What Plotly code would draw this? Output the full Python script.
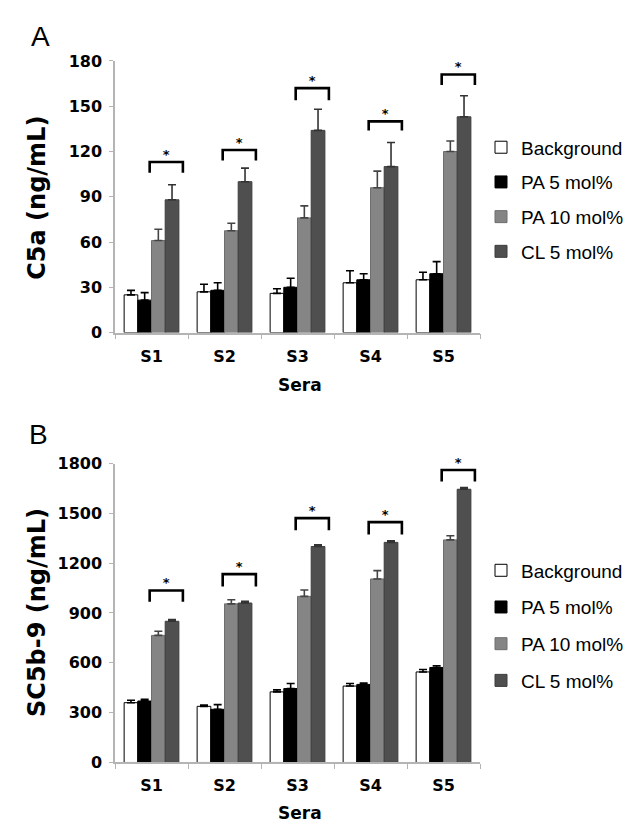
import plotly.graph_objects as go

# ---------------- data ----------------
sera = ["S1", "S2", "S3", "S4", "S5"]
series_names = ["Background", "PA 5 mol%", "PA 10 mol%", "CL 5 mol%"]

# Panel A: C5a (ng/mL)
c5a_background = [25, 27, 26, 33, 35]
c5a_background_err = [3, 5, 3, 8, 5]
c5a_pa5 = [21.5, 28, 30, 35, 39]
c5a_pa5_err = [5, 5, 6, 4, 8]
c5a_pa10 = [61, 67.5, 76, 96, 120]
c5a_pa10_err = [7.5, 5, 8, 11, 7]
c5a_cl5 = [88, 100, 134, 110, 143]
c5a_cl5_err = [10, 9, 14, 16, 14]
c5a_bracket_top = [113, 121, 162, 140, 171]
c5a_bracket_foot = [106, 114, 154, 134, 164]

# Panel B: SC5b-9 (ng/mL)
sc5b9_background = [360, 338, 425, 460, 545]
sc5b9_background_err = [15, 8, 12, 15, 15]
sc5b9_pa5 = [370, 320, 445, 470, 572]
sc5b9_pa5_err = [10, 28, 30, 8, 10]
sc5b9_pa10 = [765, 955, 1000, 1105, 1340]
sc5b9_pa10_err = [25, 25, 38, 50, 25]
sc5b9_cl5 = [850, 960, 1300, 1325, 1645]
sc5b9_cl5_err = [10, 10, 10, 10, 10]
sc5b9_bracket_top = [1035, 1134, 1471, 1447, 1761]
sc5b9_bracket_foot = [967, 1059, 1398, 1373, 1692]

c5a_ticks = [0, 30, 60, 90, 120, 150, 180]
sc5b9_ticks = [0, 300, 600, 900, 1200, 1500, 1800]

# ---------------- style ----------------
W, H = 642, 827
fill_colors = ["#ffffff", "#000000", "#858585", "#4f4f4f"]
line_colors = ["#000000", "#000000", "#6e6e6e", "#3c3c3c"]
err_colors = ["#000000", "#000000", "#444444", "#333333"]
AXIS_GREY = "#b4b4b4"
BOLD = "DejaVu Sans"
xs = list(range(len(sera)))

fig = go.Figure()


def add_panel(values, errs, bt, bf, xa, ya, legend_name, show_legend):
    for k in range(4):
        fig.add_trace(go.Bar(
            x=xs, y=values[k], name=series_names[k],
            marker=dict(color=fill_colors[k], line=dict(color=line_colors[k], width=1)),
            error_y=dict(type="data", array=errs[k], arrayminus=[0] * len(xs),
                         symmetric=False, color=err_colors[k], thickness=1.6, width=4),
            xaxis=xa, yaxis=ya, legend=legend_name, legendgroup=legend_name + str(k),
            showlegend=show_legend, offsetgroup=str(k),
        ))
    # significance brackets between PA 10 mol% and CL 5 mol%
    bx, by = [], []
    for i in xs:
        x0, x1 = i - 0.025, i + 0.43
        bx += [x0, x0, x1, x1, None]
        by += [bf[i], bt[i], bt[i], bf[i], None]
    fig.add_trace(go.Scatter(x=bx, y=by, mode="lines", line=dict(color="#000000", width=2.6),
                             xaxis=xa, yaxis=ya, showlegend=False, hoverinfo="skip",
                             cliponaxis=False))
    fig.add_trace(go.Scatter(x=[i + 0.2 for i in xs], y=bt, mode="text", text=["*"] * len(xs),
                             textposition="top center",
                             textfont=dict(family=BOLD, size=13, color="#000000", weight="bold"),
                             xaxis=xa, yaxis=ya, showlegend=False, hoverinfo="skip",
                             cliponaxis=False))


add_panel([c5a_background, c5a_pa5, c5a_pa10, c5a_cl5],
          [c5a_background_err, c5a_pa5_err, c5a_pa10_err, c5a_cl5_err],
          c5a_bracket_top, c5a_bracket_foot, "x", "y", "legend", True)
add_panel([sc5b9_background, sc5b9_pa5, sc5b9_pa10, sc5b9_cl5],
          [sc5b9_background_err, sc5b9_pa5_err, sc5b9_pa10_err, sc5b9_cl5_err],
          sc5b9_bracket_top, sc5b9_bracket_foot, "x2", "y2", "legend2", True)

xdom = [107 / W, 472 / W]
ydomA = [1 - 323 / H, 1 - 45 / H]
ydomB = [1 - 763 / H, 1 - 457 / H]

xaxis_common = dict(
    domain=xdom, range=[-0.5, 4.5], tickvals=xs, ticktext=sera, ticks="",
    showline=True, linecolor=AXIS_GREY, linewidth=1.5, showgrid=False, zeroline=False,
    tickfont=dict(family=BOLD, size=16, color="#000000", weight="bold"),
    ticklabelstandoff=8,
    minor=dict(tickvals=[-0.5, 0.5, 1.5, 2.5, 3.5, 4.5], ticks="outside", ticklen=5,
               tickcolor=AXIS_GREY, tickwidth=1.2, showgrid=False),
    fixedrange=True,
)
yaxis_common = dict(
    showline=True, linecolor=AXIS_GREY, linewidth=1.5, showgrid=False, zeroline=False,
    ticks="outside", ticklen=4, tickcolor=AXIS_GREY, tickwidth=1.2,
    tickfont=dict(family=BOLD, size=16, color="#000000", weight="bold"),
    ticklabelstandoff=4, fixedrange=True,
)

legend_font = dict(family="Liberation Sans", size=19, color="#000000")
fig.update_layout(
    width=W, height=H,
    margin=dict(l=0, r=0, t=0, b=0),
    paper_bgcolor="#ffffff", plot_bgcolor="#ffffff",
    barmode="group", bargap=0.25, bargroupgap=0.0,
    xaxis=dict(anchor="y", **xaxis_common),
    xaxis2=dict(anchor="y2", **xaxis_common),
    yaxis=dict(domain=ydomA, anchor="x", range=[0, 180], tickvals=c5a_ticks, **yaxis_common),
    yaxis2=dict(domain=ydomB, anchor="x2", range=[0, 1800], tickvals=sc5b9_ticks, **yaxis_common),
    legend=dict(x=473 / W, y=1 - 114 / H, xanchor="left", yanchor="top",
                font=legend_font, tracegroupgap=7, bgcolor="rgba(0,0,0,0)", itemclick=False),
    legend2=dict(x=473 / W, y=1 - 547 / H, xanchor="left", yanchor="top",
                 font=legend_font, tracegroupgap=9, bgcolor="rgba(0,0,0,0)", itemclick=False),
    showlegend=True,
)

ann_font = dict(family=BOLD, size=24, color="#000000", weight="bold")
annotations = [
    dict(text="A", x=32 / W, y=1 - 20 / H, font=dict(family="Liberation Sans", size=28, color="#000000")),
    dict(text="B", x=30 / W, y=1 - 427 / H, font=dict(family="Liberation Sans", size=28, color="#000000")),
    dict(text="C5a (ng/mL)", x=29 / W, y=1 - 185 / H, textangle=-90, font=ann_font),
    dict(text="SC5b-9 (ng/mL)", x=29 / W, y=1 - 610 / H, textangle=-90, font=ann_font),
    dict(text="Sera", x=292 / W, y=1 - 377 / H, font=dict(family=BOLD, size=17, color="#000000", weight="bold")),
    dict(text="Sera", x=292 / W, y=1 - 815 / H, font=dict(family=BOLD, size=17, color="#000000", weight="bold")),
]
for a in annotations:
    a.update(xref="paper", yref="paper", showarrow=False, xanchor="center", yanchor="middle")
fig.update_layout(annotations=annotations)

fig.write_html("out.html")
